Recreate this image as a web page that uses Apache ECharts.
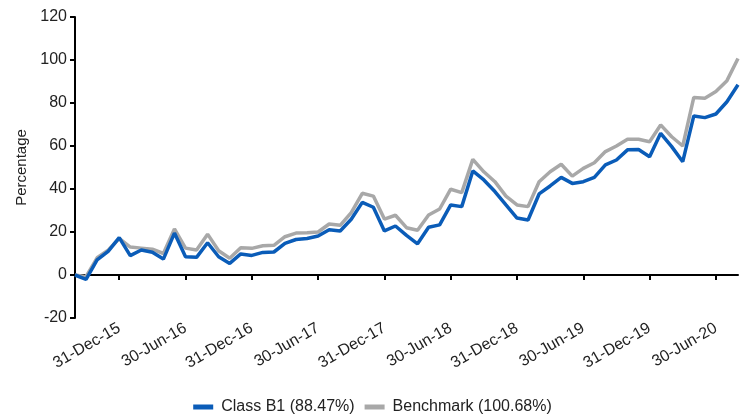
<!DOCTYPE html>
<html>
<head>
<meta charset="utf-8">
<script src="https://cdn.jsdelivr.net/npm/echarts@6/dist/echarts.min.js"></script>
<style>
html,body{margin:0;padding:0;background:#fff;}
#chart{width:745px;height:416px;}
</style>
</head>
<body>
<div id="chart"></div>
<script>
var categories = ['31-Aug-15','30-Sep-15','31-Oct-15','30-Nov-15','31-Dec-15','31-Jan-16','29-Feb-16','31-Mar-16','30-Apr-16','31-May-16','30-Jun-16','31-Jul-16','31-Aug-16','30-Sep-16','31-Oct-16','30-Nov-16','31-Dec-16','31-Jan-17','28-Feb-17','31-Mar-17','30-Apr-17','31-May-17','30-Jun-17','31-Jul-17','31-Aug-17','30-Sep-17','31-Oct-17','30-Nov-17','31-Dec-17','31-Jan-18','28-Feb-18','31-Mar-18','30-Apr-18','31-May-18','30-Jun-18','31-Jul-18','31-Aug-18','30-Sep-18','31-Oct-18','30-Nov-18','31-Dec-18','31-Jan-19','28-Feb-19','31-Mar-19','30-Apr-19','31-May-19','30-Jun-19','31-Jul-19','31-Aug-19','30-Sep-19','31-Oct-19','30-Nov-19','31-Dec-19','31-Jan-20','29-Feb-20','31-Mar-20','30-Apr-20','31-May-20','30-Jun-20','31-Jul-20','31-Aug-20'];
var tickLabels = ['31-Dec-15','30-Jun-16','31-Dec-16','30-Jun-17','31-Dec-17','30-Jun-18','31-Dec-18','30-Jun-19','31-Dec-19','30-Jun-20'];
var classB1 = [0,-2,7,11,17.4,9,11.6,10.6,7.4,19.5,8.5,8.2,15,8.5,5.4,9.8,9.1,10.5,10.7,14.7,16.5,17,18.1,21,20.5,25.9,33.8,31.5,20.5,22.8,18.4,14.5,22.2,23.3,32.6,31.8,48.4,44.2,38.8,32.6,26.5,25.6,37.7,41.4,45.4,42.6,43.4,45.4,51.2,53.5,58.2,58.4,55,65.9,59.7,52.7,74,73.2,74.9,80.6,88.47];
var benchmark = [0,-0.8,8,11.5,17,13,12.5,12,10,21.4,12.5,11.6,19,11.3,7.8,12.7,12.4,13.6,13.8,17.8,19.5,19.7,20,23.7,23.1,29,38,36.7,26,27.8,22,20.8,27.9,30.7,39.9,38.3,53.8,48,43.4,36.7,32.6,31.8,43.4,48,51.5,46,49.6,52.2,57.4,60,63.1,63.1,62,69.8,64.3,60,82.6,82.2,85.3,90.4,100.68];
var seriesNames = ['Class B1 (88.47%)','Benchmark (100.68%)'];
var yTicks = {min:-20, max:120, interval:20};

var font = 'Arial, "Liberation Sans", sans-serif';
function showIdx(i, v){ return tickLabels.indexOf(v) >= 0; }

var chart = echarts.init(document.getElementById('chart'), null, {renderer:'canvas'});
chart.setOption({
  animation:false,
  backgroundColor:'#fff',
  grid:{left:75, right:7, top:17, bottom:98, containLabel:false},
  legend:{
    data:seriesNames, top:394, left:'center', icon:'rect', itemWidth:20, itemHeight:5, itemGap:10,
    textStyle:{fontFamily:font, fontSize:16, color:'#222', padding:[0,0,0,3]}
  },
  xAxis:[{
    type:'category', data:categories, boundaryGap:false, position:'bottom',
    axisLine:{onZero:true, lineStyle:{color:'#000', width:2}},
    axisTick:{show:true, interval:showIdx, length:5, lineStyle:{color:'#000', width:2}},
    axisLabel:{show:false},
    splitLine:{show:false}
  },{
    type:'category', data:categories, boundaryGap:false, position:'bottom', gridIndex:0,
    axisLine:{show:false, onZero:false},
    axisTick:{show:false},
    axisLabel:{show:true, interval:showIdx, rotate:30, margin:9, fontFamily:font, fontSize:16, color:'#222'},
    splitLine:{show:false}
  }],
  yAxis:{
    type:'value', min:yTicks.min, max:yTicks.max, interval:yTicks.interval,
    name:'Percentage', nameLocation:'middle', nameGap:46, nameRotate:90,
    nameTextStyle:{fontFamily:font, fontSize:15, color:'#222'},
    axisLine:{show:true, onZero:false, lineStyle:{color:'#000', width:2}},
    axisTick:{show:true, length:5, lineStyle:{color:'#000', width:2}},
    axisLabel:{fontFamily:font, fontSize:16, color:'#222', margin:8},
    splitLine:{show:false}
  },
  series:[{
    name:seriesNames[1], type:'line', data:benchmark, xAxisIndex:0, symbol:'none',
    lineStyle:{color:'#a8a8a8', width:3.5}, itemStyle:{color:'#a8a8a8'}, z:2
  },{
    name:seriesNames[0], type:'line', data:classB1, xAxisIndex:0, symbol:'none',
    lineStyle:{color:'#0a5cb8', width:3.5}, itemStyle:{color:'#0a5cb8'}, z:3
  }]
});
</script>
</body>
</html>
